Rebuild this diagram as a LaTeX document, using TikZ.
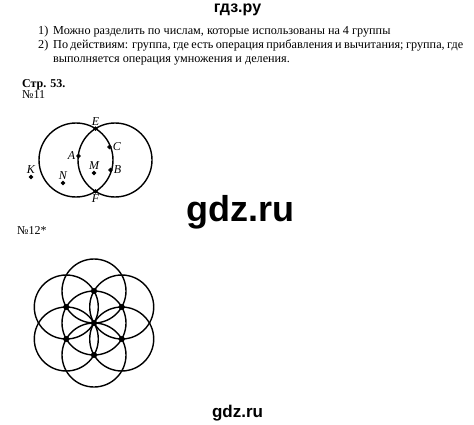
\documentclass[tikz,border=0pt]{standalone}
\usepackage{fontspec}
\setmainfont{Liberation Serif}
\newfontfamily\sitefont{Liberation Sans}
\usetikzlibrary{calc}
\usetikzlibrary{positioning}

\begin{document}
\begin{tikzpicture}[x=1pt,y=-1pt,
  dot/.style = {draw,fill,circle,inner sep=1.4pt},
  bigdot/.style = {dot,inner sep=2pt},
  lbl/.style = {font=\fontsize{12}{12}\selectfont\itshape, inner sep=1pt},
  ring/.style = {line width=1.4pt},
  body/.style = {font=\fontsize{12.2}{14}\selectfont, inner sep=0pt, anchor=base west},
  sitemark/.style = {font=\sitefont\bfseries, inner sep=0pt, anchor=base}
  ]
	\useasboundingbox (0,0) rectangle (474,425);

	\node[sitemark, font=\sitefont\bfseries\fontsize{16}{16}\selectfont] (head) at (237.5,12.5) {гдз.ру};

	\node[body] (n1) at (38,35) {1)};
	\node[body] (t1) at (53,35) {Можно разделить по числам, которые использованы на 4 группы};
	\node[body] (n2) at (38,49) {2)};
	\node[body, text width=410pt, align=justify] (t2) at (53,49) {\spaceskip=0.25em plus 0.3em minus 0.1em
		По действиям: группа, где есть операция прибавления и вычитания; группа, где\linebreak выполняется операция умножения и деления.};

	\node[body, font=\fontsize{12}{14}\selectfont\bfseries] (page) at (22,88) {Стр. 53.};
	\node[body, font=\fontsize{12}{14}\selectfont] (task11) at (22,99) {№11};

	% two circles
	\coordinate (o1) at (76,160);
	\coordinate (o2) at (115,160);
	\draw[ring] (o1) circle (37);
	\draw[ring] (o2) circle (37);

	\node[dot,label={[lbl]above:$\mathit{E}$}] (E) at (95.5,128.6) {};
	\node[dot,label={[lbl]below:$\mathit{F}$}] (F) at (95.5,191.4) {};
	\node[dot,label={[lbl]left:$\mathit{A}$}] (A) at (78.5,156) {};
	\node[dot,label={[lbl]right:$\mathit{C}$}] (C) at (109.5,147) {};
	\node[dot,label={[lbl]right:$\mathit{B}$}] (B) at (110.5,170) {};
	\node[dot,label={[lbl]above:$\mathit{M}$}] (M) at (94,173) {};
	\node[dot,label={[lbl]above:$\mathit{N}$}] (N) at (63,183) {};
	\node[dot,label={[lbl]above:$\mathit{K}$}] (K) at (31,177) {};

	\node[sitemark, font=\sitefont\bfseries\fontsize{36}{36}\selectfont] (mid) at (240,221) {gdz.ru};

	\node[body, font=\fontsize{12}{14}\selectfont] (task12) at (17,234) {№12*};

	% flower of seven circles
	\coordinate (c0) at (94,323);
	\draw[ring] (c0) circle (32);
	\foreach \a [count=\i] in {90,30,-30,-90,-150,150}
	{
		\coordinate (c\i) at ($(c0)+(\a:32)$);
		\draw[ring] (c\i) circle (32);
		\node[bigdot] (d\i) at (c\i) {};
	}
	\node[bigdot] (d0) at (c0) {};

	\node[sitemark, font=\sitefont\bfseries\fontsize{17}{17}\selectfont] (foot) at (237.5,417) {gdz.ru};

\end{tikzpicture}
\end{document}
